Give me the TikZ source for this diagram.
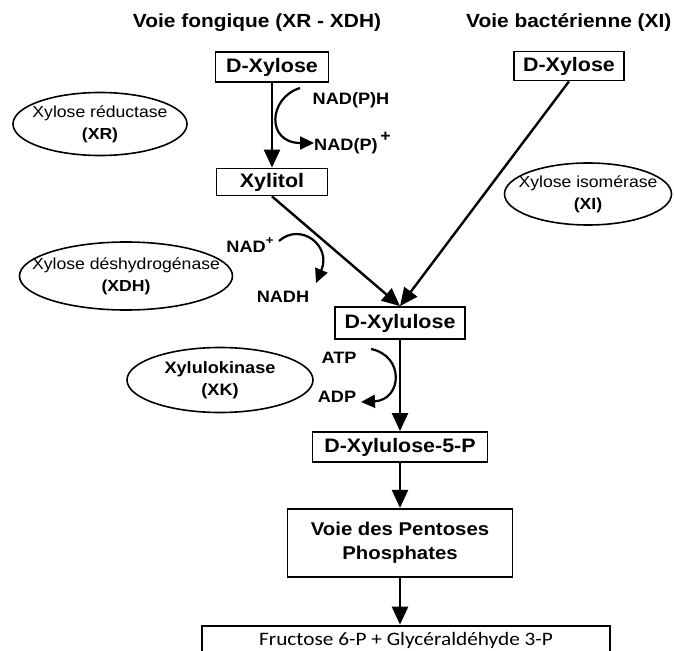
\documentclass[tikz,border=0pt]{standalone}
\usepackage{fontspec}
\setmainfont{Liberation Sans}[FakeStretch=1.1]
\newfontfamily\fructfont{Carlito}[FakeStretch=1.12]
\usetikzlibrary{arrows.meta, positioning, shapes.geometric}
\newcommand{\ionplus}[1]{\raisebox{0.5em}{\fontsize{#1}{#1}\selectfont +}}
\tikzset{
    metabox/.style={
        rectangle,
        draw=black,
        line width=1.8pt,
        inner sep=0pt,
        align=center,
        font=\fontsize{19.5}{24}\selectfont\bfseries
    },
    enzyme/.style={
        ellipse,
        draw=black,
        line width=1.6pt,
        inner sep=0pt
    },
    enzymetext/.style={align=center, inner sep=0pt, font=\fontsize{16}{22}\selectfont},
    cofactor/.style={inner sep=0pt, font=\fontsize{16.5}{18}\selectfont\bfseries},
    pathtitle/.style={inner sep=0pt, font=\fontsize{19}{22}\selectfont\bfseries},
    flowarrow/.style={-{Triangle[length=18pt, width=16pt]}, line width=2.4pt},
    cofarrow/.style={-{Triangle[length=14pt, width=13pt]}, line width=2.2pt}
}
\begin{document}
\begin{tikzpicture}[x=1pt, y=-1pt]
    \fill[white] (0,0) rectangle (674,650);
    \useasboundingbox (0,0) rectangle (674,650);
    % titles
    \node[pathtitle] (fungal) at (257,23) {Voie fongique (XR - XDH)};
    \node[pathtitle, anchor=west] (bacterial) at (466,23) {Voie bactérienne (XI)};
    % metabolites
    \node[metabox, minimum width=113pt, minimum height=30pt] (dxylL) at (272,67) {D-Xylose};
    \node[metabox, minimum width=110pt, minimum height=29pt] (dxylR) at (569,66) {D-Xylose};
    \node[metabox, minimum width=111pt, minimum height=27pt] (xylitol) at (272,182) {Xylitol};
    \node[metabox, minimum width=130pt, minimum height=32pt] (xylulose) at (400,323) {D-Xylulose};
    \node[metabox, minimum width=175pt, minimum height=30pt] (x5p) at (400,447) {D-Xylulose-5-P};
    \node[metabox, minimum width=225pt, minimum height=68pt, font=\fontsize{18.5}{24}\selectfont\bfseries, below=45pt of x5p] (pentoses) {Voie des Pentoses\\Phosphates};
    \node[metabox, minimum width=408pt, minimum height=29pt, font=\fontsize{19}{22}\selectfont\fructfont, below=47pt of pentoses, xshift=6pt] (fructose) {Fructose 6-P + Glycéraldéhyde 3-P};
    % enzymes
    \node[enzyme, minimum width=174pt, minimum height=63pt] (xr) at (100,124) {};
    \node[enzymetext] (xrtext) at (xr) {Xylose réductase\\\textbf{(XR)}};
    \node[enzyme, minimum width=213pt, minimum height=68pt] (xdh) at (126,276) {};
    \node[enzymetext] (xdhtext) at (xdh) {Xylose déshydrogénase\\\textbf{(XDH)}};
    \node[enzyme, minimum width=167pt, minimum height=62pt] (xi) at (588,194) {};
    \node[enzymetext] (xitext) at (xi) {Xylose isomérase\\\textbf{(XI)}};
    \node[enzyme, minimum width=186pt, minimum height=65pt] (xk) at (220,380) {};
    \node[enzymetext, font=\fontsize{16.5}{22}\selectfont\bfseries] (xktext) at (xk) {Xylulokinase\\(XK)};
    % cofactors
    \node[cofactor] (nadph) at (351,100) {NAD(P)H};
    \node[cofactor, anchor=west] (nadp) at (314,143) {NAD(P)\,\ionplus{16}};
    \node[cofactor] (nad) at (250,245) {NAD\ionplus{12}};
    \node[cofactor] (nadh) at (283,297) {NADH};
    \node[cofactor] (atp) at (339,358) {ATP};
    \node[cofactor] (adp) at (337,397) {ADP};
    \coordinate (redin) at (300,88);
    \coordinate (oxin) at (279,241);
    \coordinate (oxout) at (316,283);
    \coordinate (atpin) at (371,349);
    \coordinate (adpout) at (361,402);
    % main flow
    \draw[flowarrow] (dxylL) -- (xylitol);
    \draw[flowarrow] (xylitol.south) -- (xylulose.north);
    \draw[flowarrow] (dxylR.south) -- (xylulose.north);
    \draw[flowarrow] (xylulose) -- (x5p);
    \draw[flowarrow] (x5p) -- (pentoses);
    \draw[flowarrow] (pentoses.south) -- (pentoses.south |- fructose.north);
    % cofactor curves
    \draw[cofarrow] (redin) .. controls (268,98) and (266,143) .. (nadp.west);
    \draw[cofarrow] (oxin) .. controls (300,222) and (332,245) .. (oxout);
    \draw[cofarrow] (atpin) .. controls (405,356) and (402,400) .. (adpout);
\end{tikzpicture}
\end{document}
